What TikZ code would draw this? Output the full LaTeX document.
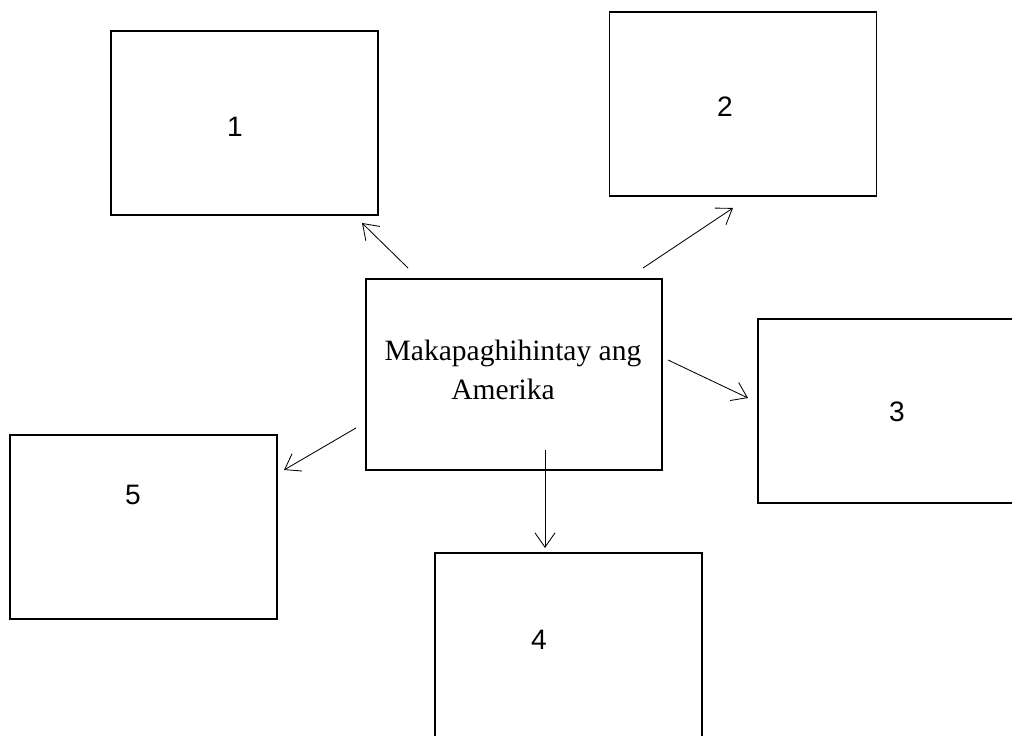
\documentclass[tikz,border=0pt]{standalone}
\usepackage{fontspec}
\setmainfont{Liberation Serif}
\newfontfamily\numfont{Liberation Sans}
\usetikzlibrary{arrows.meta}
\tikzset{>={Straight Barb[length=3.6mm,width=5mm]}}
\tikzset{box/.style={draw, line width=1pt, minimum width=6.675cm, minimum height=4.6cm, inner sep=0pt}}
\tikzset{num/.style={font=\numfont\fontsize{20}{24}\selectfont, inner sep=0pt}}
\tikzset{conn/.style={->, line width=0.6pt}}

\begin{document}
\begin{tikzpicture}[x=0.025cm, y=-0.025cm]
\useasboundingbox (0,0) rectangle (1012,736);
\clip (0,0) rectangle (1012,736);

\node[box, minimum width=7.4cm, minimum height=4.775cm] (c) at (514,374.5) {};
\node[align=center, inner sep=0pt, font=\fontsize{21}{27.7}\selectfont] (ctext) at (513,370)
  {Makapaghihintay ang\\ Amerika\hspace*{0.5cm}};

\node[box] (b1) at (244.5,123) {};
\node[box] (b2) at (743,104) {};
\node[box] (b3) at (891.5,411) {};
\node[box] (b4) at (568.5,645) {};
\node[box] (b5) at (143.5,527) {};

\node[num] (t1) at (235,127) {1};
\node[num] (t2) at (725,107) {2};
\node[num] (t3) at (897,412) {3};
\node[num] (t4) at (539,640) {4};
\node[num] (t5) at (133,495) {5};

% free arrows round the middle box
\coordinate (s1) at (408,268);
\coordinate (e1) at (362,223);
\coordinate (s2) at (643,268);
\coordinate (e2) at (733,208);
\coordinate (s3) at (668,360);
\coordinate (e3) at (748,398);
\coordinate (s4) at (545,450);
\coordinate (e4) at (545,548);
\coordinate (s5) at (356,428);
\coordinate (e5) at (284,470);

\draw[conn] (s1) -- (e1);
\draw[conn] (s2) -- (e2);
\draw[conn] (s3) -- (e3);
\draw[conn] (s4) -- (e4);
\draw[conn] (s5) -- (e5);
\end{tikzpicture}
\end{document}
